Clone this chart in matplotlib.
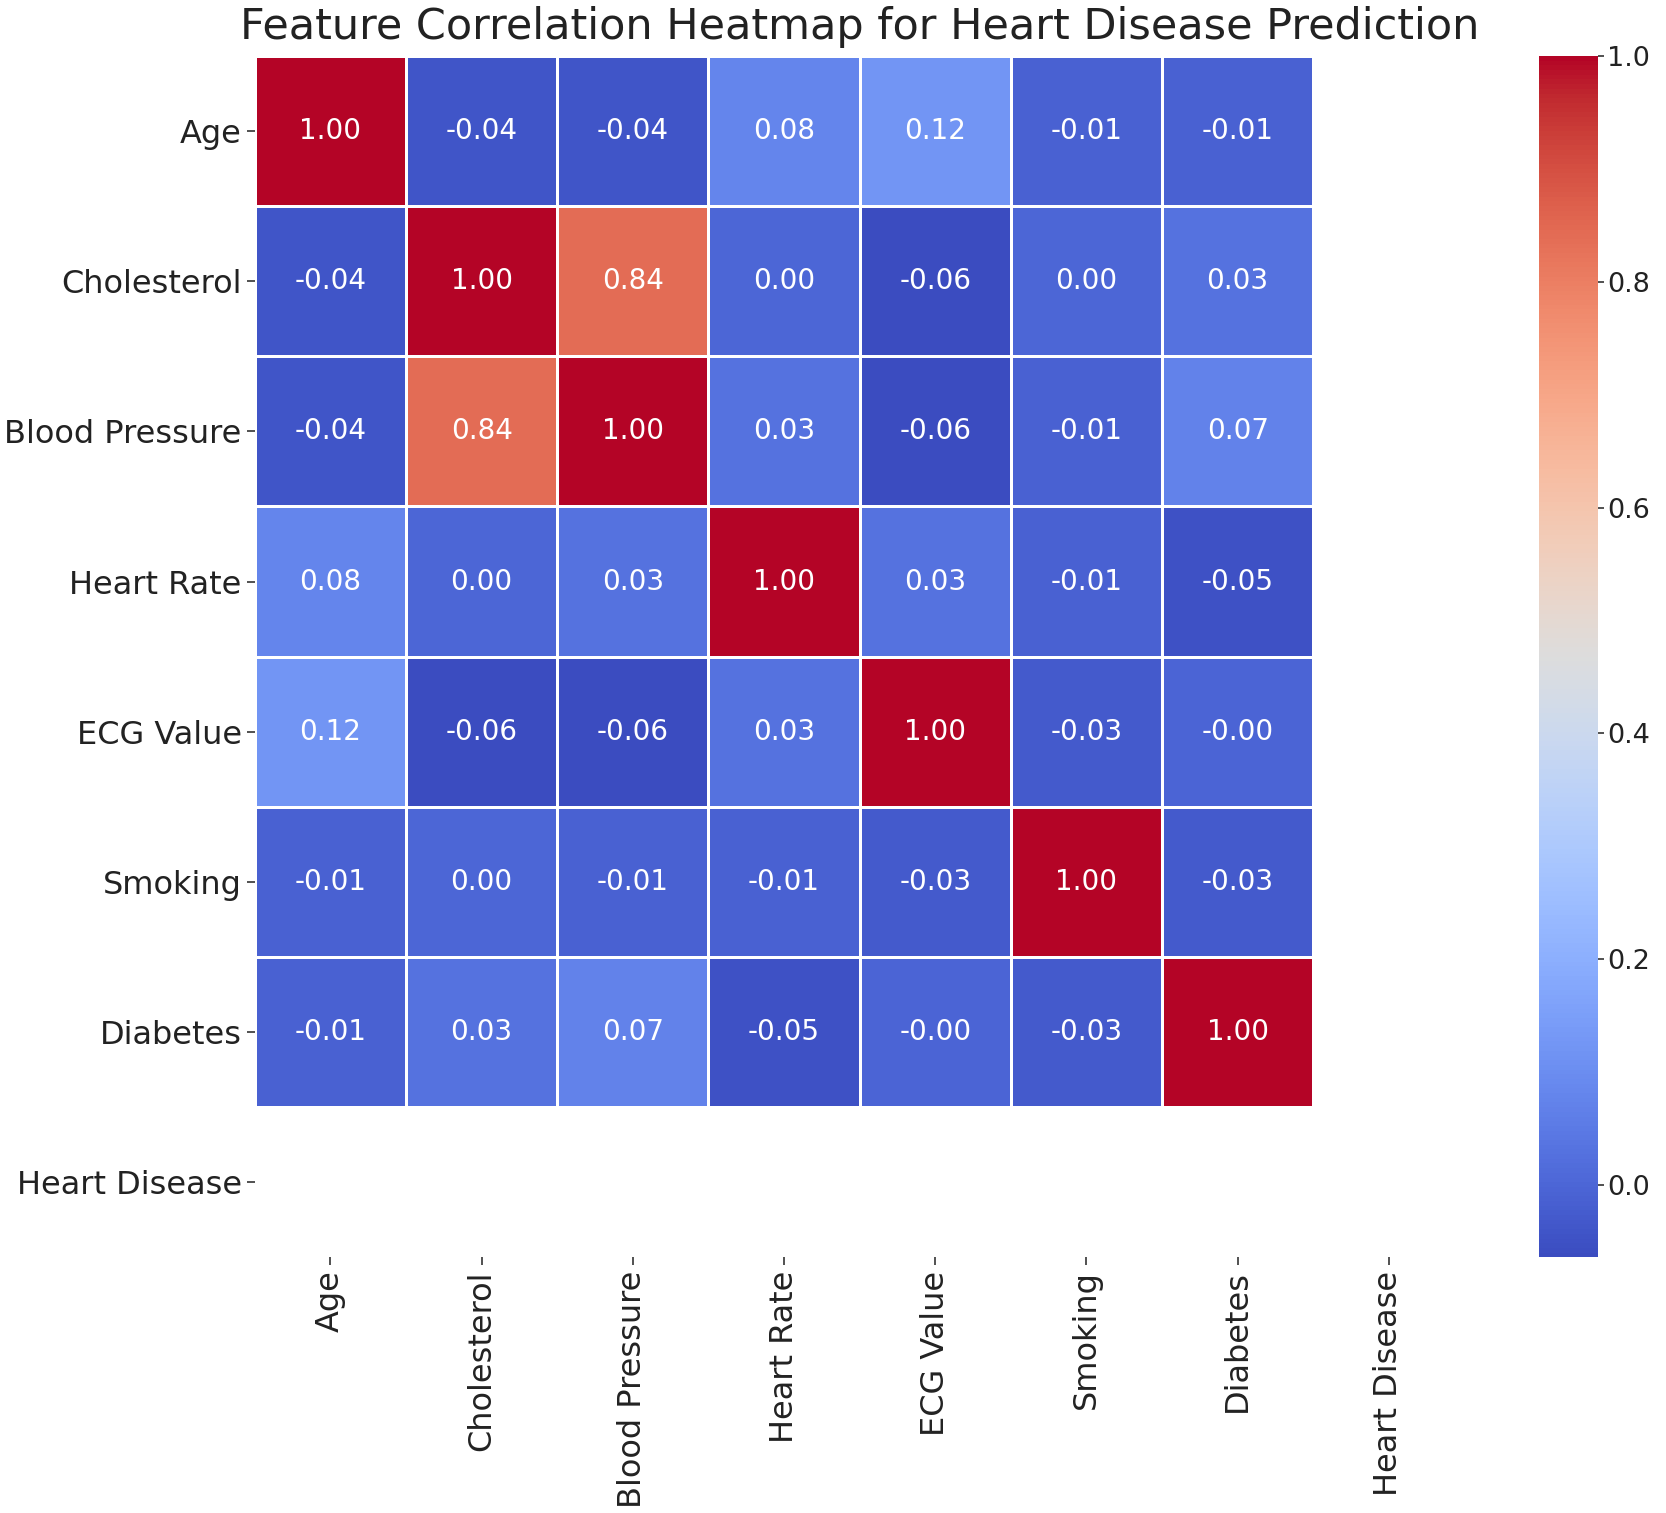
import numpy as np
import matplotlib; matplotlib.use("Agg")
import matplotlib.pyplot as plt

features = ["Age", "Cholesterol", "Blood Pressure", "Heart Rate",
            "ECG Value", "Smoking", "Diabetes", "Heart Disease"]
# Heart Disease is constant in the data -> NaN correlations (blank row/col)
age         = [1.00, -0.04, -0.04, 0.08, 0.12, -0.01, -0.01, np.nan]
cholesterol = [-0.04, 1.00, 0.84, 0.00, -0.064, 0.00, 0.03, np.nan]
blood_press = [-0.04, 0.84, 1.00, 0.03, -0.06, -0.01, 0.07, np.nan]
heart_rate  = [0.08, 0.00, 0.03, 1.00, 0.03, -0.01, -0.05, np.nan]
ecg_value   = [0.12, -0.064, -0.06, 0.03, 1.00, -0.03, -0.004, np.nan]
smoking     = [-0.01, 0.00, -0.01, -0.01, -0.03, 1.00, -0.03, np.nan]
diabetes    = [-0.01, 0.03, 0.07, -0.05, -0.004, -0.03, 1.00, np.nan]
heart_dis   = [np.nan] * 8

corr = np.array([age, cholesterol, blood_press, heart_rate,
                 ecg_value, smoking, diabetes, heart_dis])
data = np.ma.masked_invalid(corr)
n = len(features)

fig = plt.figure(figsize=(16.66, 15.13), dpi=100)
ax = fig.add_axes([0.153, 0.169, 0.726, 0.794])
cax = fig.add_axes([0.924, 0.169, 0.035, 0.794])

mesh = ax.pcolormesh(data, cmap="coolwarm", vmin=np.nanmin(corr), vmax=1.0,
                     edgecolor="white", linewidth=1.0)
ax.set_xlim(0, n); ax.set_ylim(n, 0)
for sp in ax.spines.values():
    sp.set_visible(False)

for i in range(n):
    for j in range(n):
        v = corr[i, j]
        if np.isnan(v):
            continue
        ax.text(j + 0.5, i + 0.5, f"{v:.2f}", ha="center", va="center",
                color="white", fontsize=20)

ax.set_xticks(np.arange(n) + 0.5)
ax.set_yticks(np.arange(n) + 0.5)
ax.set_xticklabels(features, rotation=90, fontsize=23)
ax.set_yticklabels(features, rotation=0, fontsize=23)
ax.tick_params(length=6, width=1.2, color="#333333", labelcolor="#222222")

cb = fig.colorbar(mesh, cax=cax)
cb.outline.set_visible(False)
cb.set_ticks([0.0, 0.2, 0.4, 0.6, 0.8, 1.0])
cb.ax.tick_params(labelsize=19.5, length=4, width=1.2, color="#333333",
                  labelcolor="#222222", pad=3)

ax.set_title("Feature Correlation Heatmap for Heart Disease Prediction",
             fontsize=31, pad=12, color="#222222")

fig.savefig("out.png", dpi=100)
